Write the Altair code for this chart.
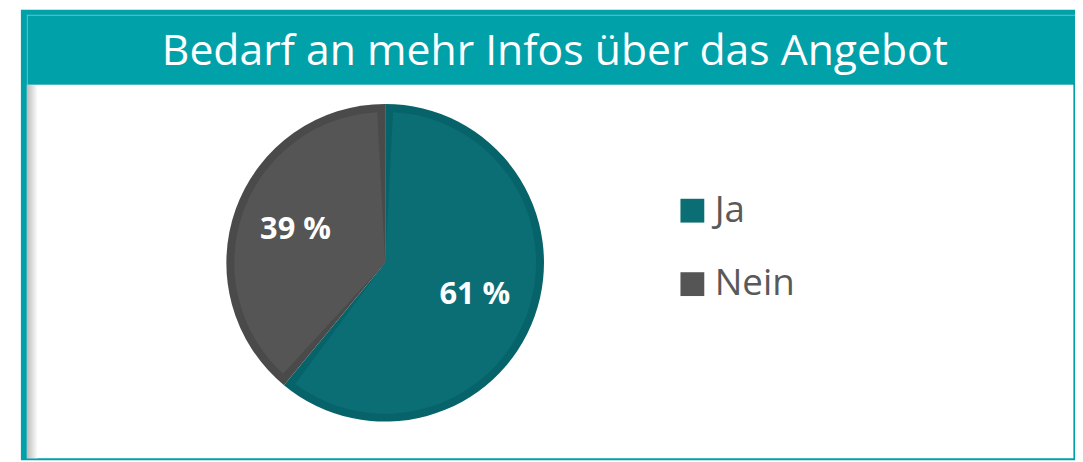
import altair as alt
import pandas as pd

# ---- data ----
categories = ["Ja", "Nein"]
values = [61, 39]
fill_colors = ["#0b6e74", "#555555"]
edge_colors = ["#07636a", "#4a4a4a"]
title_text = "Bedarf an mehr Infos über das Angebot"

df = pd.DataFrame({"cat": categories, "value": values})

FONT = "Open Sans"
TEAL = "#01a1aa"
LIGHT = "#62c4c9"

def one():
    return alt.Data(values=[{"k": 1}])

def box(x, x2, y, y2, color):
    return alt.Chart(one()).mark_rect(color=color).encode(
        x=alt.value(x), x2=alt.value(x2), y=alt.value(y), y2=alt.value(y2)
    )

frame = box(13, 1075, 0, 454, TEAL)
panel = box(19, 1073, 76, 452, "#ffffff")
panel_top = box(19, 1073, 75, 76, LIGHT)
panel_right = box(1073, 1074, 76, 452, LIGHT)
top_line = box(19, 1075, 5, 6, LIGHT)
left_line = box(19, 20, 5, 76, LIGHT)
shadow = alt.Chart(one()).mark_rect(
    color=alt.Gradient(
        gradient="linear",
        stops=[alt.GradientStop(color="#bcbcbc", offset=0),
               alt.GradientStop(color="#ffffff", offset=1)],
        x1=0, x2=1, y1=0, y2=0,
    )
).encode(x=alt.value(19), x2=alt.value(30), y=alt.value(76), y2=alt.value(452))

title = alt.Chart(pd.DataFrame({"t": [title_text]})).mark_text(
    font=FONT, fontSize=43, color="#ffffff", align="center", baseline="alphabetic"
).encode(text="t:N", x=alt.value(551), y=alt.value(56))

cx, cy = 380, 255
order = alt.Order("cat:N", sort="ascending")

outer = alt.Chart(df).mark_arc(outerRadius=160, innerRadius=0).encode(
    theta=alt.Theta("value:Q", stack=True),
    color=alt.Color("cat:N", scale=alt.Scale(domain=categories, range=edge_colors), legend=None),
    order=order,
    x=alt.value(cx), y=alt.value(cy),
)

inner = alt.Chart(df).mark_arc(outerRadius=152, innerRadius=0, padAngle=0.105).encode(
    theta=alt.Theta("value:Q", stack=True),
    color=alt.Color(
        "cat:N",
        scale=alt.Scale(domain=categories, range=fill_colors),
        legend=alt.Legend(
            title=None, orient="none", legendX=671, legendY=184, padding=0,
            symbolType="square", symbolSize=576, symbolStrokeWidth=0, symbolOpacity=1,
            labelFont=FONT, labelFontSize=37, labelColor="#595959", labelOffset=4,
            rowPadding=36, labelLimit=300,
        ),
    ),
    order=order,
    x=alt.value(cx), y=alt.value(cy),
)

labels = alt.Chart(df).transform_calculate(
    label="datum.value + ' %'"
).mark_text(
    radius=96, font=FONT, fontSize=31, fontWeight="bold", color="#ffffff",
    align="center", baseline="middle"
).encode(
    theta=alt.Theta("value:Q", stack=True),
    text="label:N",
    order=order,
    x=alt.value(cx), y=alt.value(cy),
)

pie = alt.layer(outer, inner).resolve_scale(color="independent")

chart = alt.layer(
    frame, panel, panel_top, panel_right, top_line, left_line, shadow, title,
    pie, labels
).properties(
    width=1075, height=454,
    autosize=alt.AutoSizeParams(type="fit", contains="padding"),
    padding=0, background="#ffffff",
).configure_view(stroke=None)

chart.save("out.html", embed_options={"renderer": "svg", "actions": False})
